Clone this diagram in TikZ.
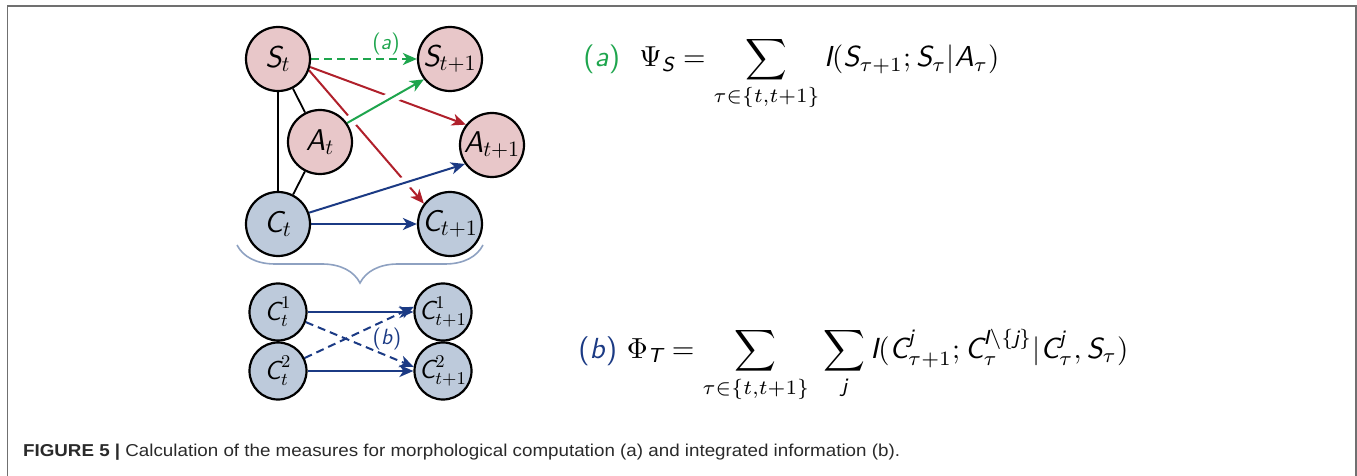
\documentclass[tikz,border=0pt]{standalone}
\usepackage{amsmath}
\usepackage{graphicx}
\usepackage{fontspec}
\newfontfamily\capfont{Liberation Sans}
\usetikzlibrary{arrows.meta,decorations.pathreplacing,backgrounds}
\definecolor{pinkfill}{HTML}{E8C7C9}
\definecolor{bluefill}{HTML}{BDCADB}
\definecolor{redline}{HTML}{B0202B}
\definecolor{greenline}{HTML}{1EA54D}
\definecolor{navy}{HTML}{1B3A84}
\definecolor{bracec}{HTML}{8EA1C1}
\definecolor{framec}{HTML}{707070}
\definecolor{captext}{HTML}{2A2A2A}
\newcommand{\sfv}[1]{\text{\normalfont\sffamily\itshape #1}}
\tikzset{
  bignode/.style={circle, draw=black, line width=1.1pt, inner sep=0pt, minimum size=32pt, font=\fontsize{15}{17}\selectfont},
  smallnode/.style={circle, draw=black, line width=1.1pt, inner sep=0pt, minimum size=28.5pt, font=\fontsize{13}{15}\selectfont},
  pinknode/.style={bignode, fill=pinkfill},
  bluenode/.style={bignode, fill=bluefill},
  sbluenode/.style={smallnode, fill=bluefill},
  blk/.style={draw=black, line width=0.9pt},
  tip/.style={-{Stealth[length=7pt,width=6pt,inset=2pt]}},
  redarr/.style={draw=redline, line width=1pt, tip},
  greenarr/.style={draw=greenline, line width=1pt, tip},
  bluearr/.style={draw=navy, line width=1pt, tip},
  halo/.style={draw=white, line width=6pt, shorten >=3pt},
  dsh/.style={dash pattern=on 4pt off 2.5pt},
}
\begin{document}
\begin{tikzpicture}[x=0.5pt,y=-0.5pt]
\useasboundingbox (0,0) rectangle (1357,476);
% frame
\draw[framec, line width=0.8pt] (7.5,476) -- (7.5,6) -- (1356,6) -- (1356,476);

% nodes
\node[pinknode] (St)  at (278,59)  {\makebox[0pt]{$\sfv{S}_t$}};
\node[pinknode] (St1) at (450,59)  {\makebox[0pt]{$\sfv{S}_{t+1}$}};
\node[pinknode] (At)  at (320,142) {\makebox[0pt]{$\sfv{A}_t$}};
\node[pinknode] (At1) at (492,145) {\makebox[0pt]{$\sfv{A}_{t+1}$}};
\node[bluenode] (Ct)  at (278,224) {\makebox[0pt]{$\sfv{C}_t$}};
\node[bluenode] (Ct1) at (450,224) {\makebox[0pt]{$\sfv{C}_{t+1}$}};

\node[sbluenode] (C1t)  at (278,312) {\makebox[0pt]{$\sfv{C}_t^1$}};
\node[sbluenode] (C2t)  at (278,371) {\makebox[0pt]{$\sfv{C}_t^2$}};
\node[sbluenode] (C1t1) at (443,312) {\makebox[0pt]{$\sfv{C}_{t+1}^1$}};
\node[sbluenode] (C2t1) at (443,371) {\makebox[0pt]{$\sfv{C}_{t+1}^2$}};

% labels
\node[text=greenline, font=\fontsize{11}{13}\selectfont] (la) at (386,44) {\textsf{(\textit{a})}};
\node[text=navy, font=\fontsize{11}{13}\selectfont] (lb) at (387,339) {\textsf{(\textit{b})}};

% connectors
\begin{scope}[on background layer]
  \draw[blk] (St) -- (At);
  \draw[blk] (St) -- (Ct);
  \draw[blk] (At) -- (Ct);
  \draw[blk] (C1t) -- (C2t);
  \draw[redarr] (St.-14) -- (At1.142);
  \draw[redarr] (St.-20) -- (Ct1.142);
  \draw[halo] (At.35) -- (St1.218);
  \draw[halo] (Ct.20) -- (At1.215);
  \draw[greenarr] (At.35) -- (St1.218);
  \draw[greenarr, dsh] (St) -- (St1);
  \draw[bluearr] (Ct.20) -- (At1.215);
  \draw[bluearr] (Ct) -- (Ct1);
  \draw[bluearr] (C1t) -- (C1t1);
  \draw[bluearr] (C2t) -- (C2t1);
  \draw[bluearr, dsh] (C1t.-20) -- (C2t1.172);
  \draw[bluearr, dsh] (C2t.26) -- (C1t1.170);
\end{scope}

% brace
\draw[bracec, line width=0.8pt, decorate, decoration={brace, mirror, amplitude=19pt}] (237,245) -- (483,245);

% formulas
\node[anchor=base west, inner sep=0pt] (fa) at (583,67) {\resizebox{208pt}{!}{$\textcolor{greenline}{\textsf{(\textit{a})}}\ \ \Psi_{\sfv{S}} = \displaystyle\sum_{\tau\in\{t,t+1\}} \sfv{I}(\sfv{S}_{\tau+1}; \sfv{S}_{\tau}|\sfv{A}_{\tau})$}};
\node[anchor=base west, inner sep=0pt] (fb) at (578,358) {\resizebox{275pt}{!}{$\textcolor{navy}{\textsf{(\textit{b})}}\ \Phi_{\sfv{T}} = \displaystyle\sum_{\tau\in\{t,t+1\}}\ \sum_{\sfv{j}} \sfv{I}(\sfv{C}^{\sfv{j}}_{\tau+1}; \sfv{C}_\tau^{\sfv{I}\setminus\{\sfv{j}\}} | \sfv{C}^{\sfv{j}}_\tau, \sfv{S}_\tau)$}};

% caption
\node[anchor=base west, inner sep=0pt, text=captext, font=\capfont\fontsize{8.6}{10}\selectfont] (cap) at (22.7,456.5) {\resizebox{438.5pt}{\height}{\textbf{FIGURE 5} \textbf{|} Calculation of the measures for morphological computation (a) and integrated information (b).}};
\end{tikzpicture}
\end{document}
